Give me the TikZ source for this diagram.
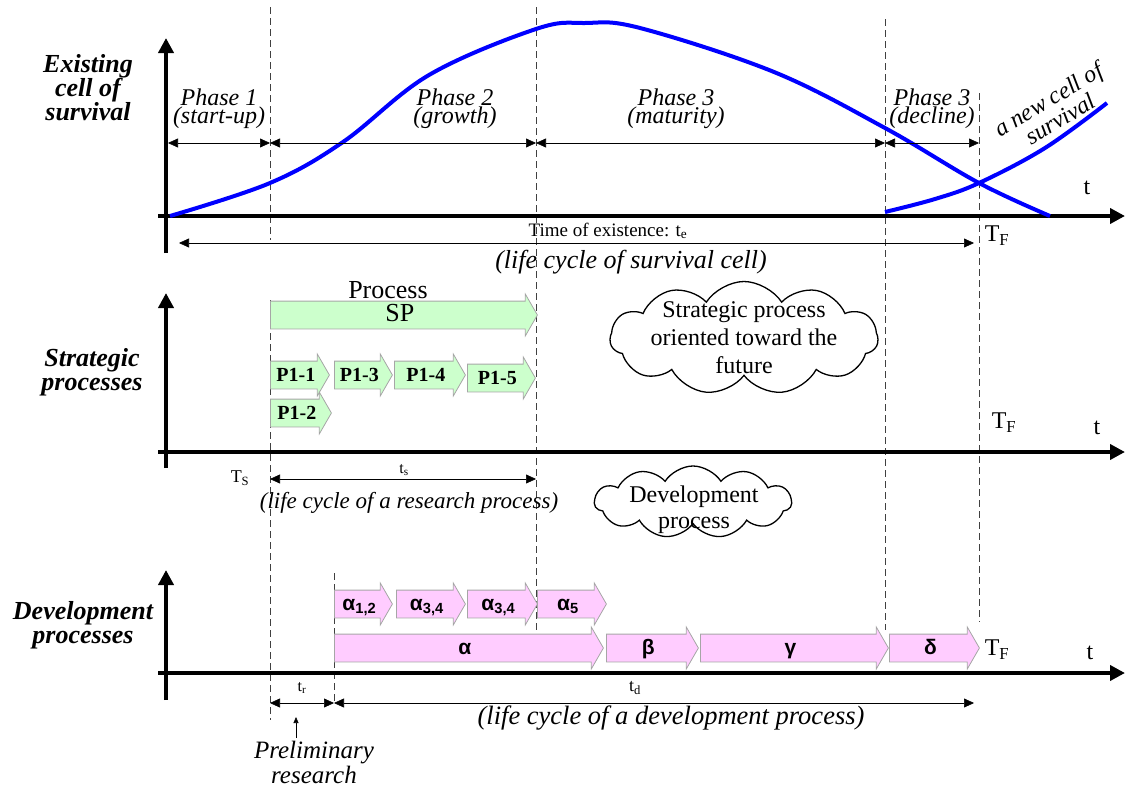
\documentclass[tikz,border=0pt]{standalone}
\usepackage{fontspec}
\setmainfont{Liberation Serif}
\newfontfamily\greekfont{Liberation Sans}
\usetikzlibrary{arrows.meta,shapes.arrows,shapes.symbols}

\definecolor{spgreen}{HTML}{CCFFCC}
\definecolor{dppink}{HTML}{FFCCFF}

\tikzset{
  axis/.style={line width=4pt, -{Triangle[length=15pt,width=15pt]}},
  dimline/.style={line width=0.6pt, {Triangle[length=10pt,width=9pt]}-{Triangle[length=10pt,width=9pt]}},
  guide/.style={line width=0.7pt, dash pattern=on 7pt off 4pt, black!75},
  lifecurve/.style={blue, line width=4pt},
  procarrow/.style={shape=single arrow, draw=black!35, line width=0.8pt,
    single arrow tip angle=120, single arrow head extend=7pt,
    minimum width=0pt, inner xsep=0pt, inner ysep=0pt,
    text height=20pt, text depth=7pt, minimum height=#1, anchor=tail},
  strat/.style={procarrow=#1, fill=spgreen, font=\fontsize{20}{20}\selectfont\bfseries},
  devel/.style={procarrow=#1, fill=dppink, font=\fontsize{21}{21}\selectfont\greekfont\bfseries},
  axislabel/.style={align=center, font=\fontsize{26}{24}\selectfont\bfseries\itshape},
  phaselabel/.style={align=center, font=\fontsize{24}{18}\selectfont\itshape},
  cyclelabel/.style={font=\fontsize{26}{26}\selectfont\itshape},
  plain/.style={font=\fontsize{24}{28}\selectfont, align=center},
  small/.style={font=\fontsize{16}{16}\selectfont},
  thought/.style={cloud, draw, line width=1.3pt, cloud puffs=11, cloud puff arc=115, cloud ignores aspect, inner sep=0pt}
}

\begin{document}
\begin{tikzpicture}[x=1pt, y=-1pt]
\useasboundingbox (0,0) rectangle (1125,787);

% time marks
\coordinate (t0) at (168,143);
\coordinate (t1) at (270,143);
\coordinate (t2) at (536,143);
\coordinate (t3) at (885,143);
\coordinate (t4) at (979,143);
\coordinate (e0) at (179,243);
\coordinate (e1) at (974,243);
\coordinate (s0) at (270,479);
\coordinate (s1) at (536,479);
\coordinate (r0) at (270,703);
\coordinate (r1) at (334,703);
\coordinate (d1) at (974,703);
\coordinate (pr0) at (296,738);
\coordinate (pr1) at (296,717);

% dashed guides
\draw[guide] (270,7) -- (270,240);
\draw[guide] (270,300) -- (270,720);
\draw[guide] (536,7) -- (536,632);
\draw[guide] (885,19) -- (885,630);
\draw[guide] (979,93) -- (979,622);
\draw[guide] (334,573) -- (334,703);

% existing cell of survival
\draw[axis] (166,253) -- (166,38);
\draw[axis] (158,216) -- (1125,216);
\draw[lifecurve] plot[smooth, tension=0.6] coordinates {(170,216) (270,183) (343,142) (429,75) (536,29) (585,23) (640,28) (774,72) (885,128) (979,183) (1050,216)};
\draw[lifecurve] plot[smooth, tension=0.6] coordinates {(885,212) (935,199) (979,183) (1045,148) (1107,103)};

\node[axislabel] (cell) at (88,88) {Existing\\cell of\\survival};
\node[phaselabel] (ph1) at (219,109) {Phase 1\\(start-up)};
\node[phaselabel] (ph2) at (455,109) {Phase 2\\(growth)};
\node[phaselabel] (ph3) at (676,109) {Phase 3\\(maturity)};
\node[phaselabel] (ph4) at (932,109) {Phase 3\\(decline)};
\node[phaselabel, rotate=31] (newcell) at (1054,109) {a new cell of\\survival};
\node[plain] (tcell) at (1087,188) {t};

\draw[dimline] (t0) -- (t1);
\draw[dimline] (t1) -- (t2);
\draw[dimline] (t2) -- (t3);
\draw[dimline] (t3) -- (t4);

\node[font=\fontsize{19}{19}\selectfont] (exist) at (608,231) {Time of existence: t\textsubscript{e}};
\draw[dimline] (e0) -- (e1);
\node[plain] (tf1) at (997,236) {T\textsubscript{F}};
\node[cyclelabel] (cyc1) at (631,262) {(life cycle of survival cell)};

% strategic processes
\draw[axis] (166,468) -- (166,293);
\draw[axis] (158,452) -- (1125,452);
\node[axislabel] (strat) at (92,372) {Strategic\\processes};
\node[plain, font=\fontsize{26}{26}\selectfont] (proc) at (388,290) {Process};
\node[strat=267, font=\fontsize{26}{26}\selectfont] (sp) at (270,315) {SP};
\node[strat=59] (p11) at (270,375) {P1-1};
\node[strat=58] (p13) at (334,375) {P1-3};
\node[strat=71] (p14) at (394,375) {P1-4};
\node[strat=68] (p15) at (467,378) {P1-5};
\node[strat=61] (p12) at (270,413) {P1-2};
\node[thought, minimum width=268pt, minimum height=113pt] (future) at (744,338) {};
\node[plain] (futuretext) at (744,338) {Strategic process\\oriented toward the\\future};
\node[plain] (tf2) at (1004,423) {T\textsubscript{F}};
\node[plain] (tstrat) at (1097,428) {t};
\node[font=\fontsize{18}{18}\selectfont] (ts0) at (240,478) {T\textsubscript{S}};
\node[small] (tslab) at (404,470) {t\textsubscript{s}};
\draw[dimline] (s0) -- (s1);
\node[cyclelabel, font=\fontsize{23}{23}\selectfont\itshape] (cyc2) at (409,503) {(life cycle of a research process)};
\node[thought, minimum width=197pt, minimum height=72pt] (devcloud) at (693,502) {};
\node[plain, font=\fontsize{24}{26}\selectfont] (devtext) at (694,510) {Development\\process};

% development processes
\draw[axis] (166,700) -- (166,570);
\draw[axis] (158,673) -- (1125,673);
\node[axislabel] (devel) at (83,625) {Development\\processes};
\node[devel=58] (a12) at (334,604) {α\textsubscript{1,2}};
\node[devel=69] (a34) at (396,604) {α\textsubscript{3,4}};
\node[devel=70] (a34b) at (467,604) {α\textsubscript{3,4}};
\node[devel=69] (a5) at (537,604) {α\textsubscript{5}};
\node[devel=269] (alpha) at (334,648) {α};
\node[devel=92] (beta) at (606,648) {β};
\node[devel=188] (gamma) at (700,648) {γ};
\node[devel=90] (delta) at (889,648) {δ};
\node[plain] (tf3) at (997,650) {T\textsubscript{F}};
\node[plain] (tdev) at (1090,653) {t};
\node[small] (trlab) at (302,688) {t\textsubscript{r}};
\node[small, font=\fontsize{18}{18}\selectfont] (tdlab) at (635,688) {t\textsubscript{d}};
\draw[dimline] (r0) -- (r1);
\draw[dimline] (r1) -- (d1);
\node[cyclelabel, font=\fontsize{26.5}{26.5}\selectfont\itshape] (cyc3) at (671,718) {(life cycle of a development process)};
\draw[line width=0.6pt, -{Triangle[length=6pt,width=5pt]}] (pr0) -- (pr1);
\node[align=center, font=\fontsize{25}{25}\selectfont\itshape] (prelim) at (314,762) {Preliminary\\research};
\end{tikzpicture}
\end{document}
